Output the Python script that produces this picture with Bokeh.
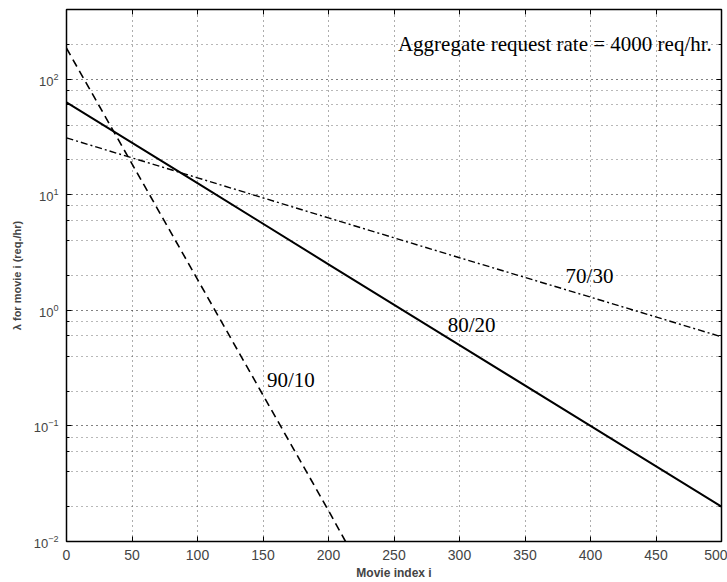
from bokeh.plotting import figure
from bokeh.models import (Label, LinearAxis, LogAxis, FixedTicker, LogTicker,
                          CustomJSTickFormatter)
from bokeh.embed import file_html
from bokeh.resources import INLINE

# Request rate (req./hr) for each movie index under three popularity skews
movie_index = [0, 100, 200, 300, 400, 500]
rate_80_20 = [63, 12.6, 2.5, 0.5, 0.1, 0.02]
rate_70_30 = [31, 14, 6.3, 2.85, 1.3, 0.59]

movie_index_90_10 = [0, 50, 100, 150, 200, 213]
rate_90_10 = [185, 18.5, 1.85, 0.185, 0.0185, 0.01]

x_ticks = [0, 50, 100, 150, 200, 250, 300, 350, 400, 450, 500]
curve_labels = ["90/10", "80/20", "70/30"]
title_text = "Aggregate request rate = 4000 req/hr."

p = figure(width=727, height=582, x_range=(0, 500), y_range=(0.01, 400),
           y_axis_type="log", output_backend="svg", toolbar_location=None,
           min_border_left=66, min_border_right=6, min_border_top=9,
           min_border_bottom=41)
p.background_fill_color = "white"
p.border_fill_color = "white"
p.outline_line_color = "black"
p.outline_line_width = 1.5

# dotted grid, major and minor
grid_dash = "1 4"
p.xgrid.ticker = FixedTicker(ticks=x_ticks)
p.xgrid.grid_line_color = "#333333"
p.xgrid.grid_line_dash = grid_dash
p.xgrid.grid_line_alpha = 0.8
p.ygrid.grid_line_color = "#333333"
p.ygrid.grid_line_dash = grid_dash
p.ygrid.grid_line_alpha = 0.8
p.ygrid.minor_grid_line_color = "#333333"
p.ygrid.minor_grid_line_dash = grid_dash
p.ygrid.minor_grid_line_alpha = 0.7

tick_font = "Liberation Sans"

xa = p.xaxis[0]
xa.ticker = FixedTicker(ticks=x_ticks)
xa.axis_label = "Movie index i"
xa.axis_label_text_font = tick_font
xa.axis_label_text_font_style = "bold"
xa.axis_label_text_font_size = "12px"
xa.axis_label_standoff = 3
xa.major_label_text_font = tick_font
xa.major_label_text_font_size = "14px"
xa.major_label_standoff = 8
xa.major_tick_in = 5
xa.major_tick_out = 0
xa.minor_tick_in = 0
xa.minor_tick_out = 0
xa.axis_line_color = "black"

ya = p.yaxis[0]
ya.ticker = LogTicker(desired_num_ticks=5)
ya.axis_label = "λ for movie i (req./hr)"
ya.axis_label_text_font = tick_font
ya.axis_label_text_font_style = "bold"
ya.axis_label_text_font_size = "11px"
ya.axis_label_standoff = 8
ya.major_label_text_font = tick_font
ya.major_label_text_font_size = "13px"
ya.major_label_standoff = 8
ya.major_tick_in = 5
ya.major_tick_out = 0
ya.minor_tick_in = 3
ya.minor_tick_out = 0
ya.axis_line_color = "black"

# box ticks on the top and right edges, without labels
blank = CustomJSTickFormatter(code="return ''")
top = LinearAxis(ticker=FixedTicker(ticks=x_ticks), formatter=blank,
                 major_label_standoff=0, major_tick_in=5, major_tick_out=0,
                 minor_tick_in=0, minor_tick_out=0, axis_line_color="black")
right = LogAxis(ticker=LogTicker(desired_num_ticks=5), formatter=blank,
                major_label_standoff=0, major_tick_in=5, major_tick_out=0,
                minor_tick_in=3, minor_tick_out=0, axis_line_color="black")
p.add_layout(top, "above")
p.add_layout(right, "right")

p.line(movie_index, rate_80_20, line_color="black", line_width=2)
p.line(movie_index_90_10, rate_90_10, line_color="black", line_width=1.6,
       line_dash="8 5")
p.line(movie_index, rate_70_30, line_color="black", line_width=1.4,
       line_dash="7 3 2 3")

serif = "Liberation Serif"
p.add_layout(Label(x=253, y=200, text=title_text, text_font=serif,
                   text_font_size="21px", text_baseline="middle",
                   text_color="black"))
p.add_layout(Label(x=153, y=0.25, text=curve_labels[0], text_font=serif,
                   text_font_size="21px", text_baseline="middle",
                   text_color="black"))
p.add_layout(Label(x=291, y=0.74, text=curve_labels[1], text_font=serif,
                   text_font_size="21px", text_baseline="middle",
                   text_color="black"))
p.add_layout(Label(x=381, y=2.0, text=curve_labels[2], text_font=serif,
                   text_font_size="21px", text_baseline="middle",
                   text_color="black"))

open("out.html", "w").write(file_html(p, INLINE))
